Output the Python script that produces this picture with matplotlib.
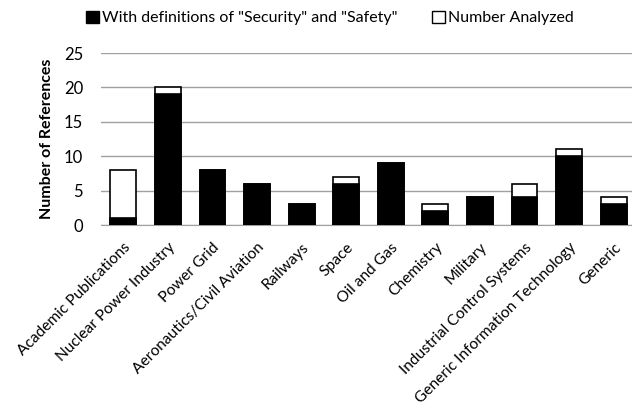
import matplotlib
matplotlib.use("Agg")
import matplotlib.pyplot as plt
from matplotlib.patches import Patch

categories = ["Academic Publications", "Nuclear Power Industry", "Power Grid",
              "Aeronautics/Civil Aviation", "Railways", "Space", "Oil and Gas",
              "Chemistry", "Military", "Industrial Control Systems",
              "Generic Information Technology", "Generic"]
with_defs = [1, 19, 8, 6, 3, 6, 9, 2, 4, 4, 10, 3]
analyzed = [8, 20, 8, 6, 3, 7, 9, 3, 4, 6, 11, 4]
yticks = [0, 5, 10, 15, 20, 25]

plt.rcParams['font.family'] = ['Lato', 'DejaVu Sans']

fig = plt.figure(figsize=(6.32, 4.08), dpi=100)
ax = fig.add_axes([101/632, 1-225/408, 535/632, 172/408])

x = list(range(len(categories)))
ax.bar(x, analyzed, width=0.58, color='white', edgecolor='black', linewidth=1.2, zorder=2)
ax.bar(x, with_defs, width=0.58, color='black', edgecolor='black', linewidth=1.2, zorder=3)

ax.set_xlim(-0.5, len(categories) - 0.5)
ax.set_ylim(0, 25)
ax.set_yticks(yticks)
ax.set_yticklabels([str(v) for v in yticks], fontsize=12)
ax.yaxis.grid(True, color='#a0a0a0', linewidth=1, zorder=0)
ax.set_axisbelow(True)
for s in ['top', 'right', 'left']:
    ax.spines[s].set_visible(False)
ax.spines['bottom'].set_color('#a0a0a0')
ax.tick_params(axis='y', length=0, pad=13)
ax.tick_params(axis='x', length=0, pad=11)
ax.set_xticks(x)
ax.set_xticklabels(categories, rotation=45, ha='right', rotation_mode='anchor', fontsize=11.2)
ax.set_ylabel("Number of References", fontsize=11.5, fontweight='bold', labelpad=7)

handles = [Patch(facecolor='black', edgecolor='black', label='With definitions of "Security" and "Safety"'),
           Patch(facecolor='white', edgecolor='black', label='Number Analyzed')]
fig.legend(handles=handles, loc='center', bbox_to_anchor=(330/632, 1-18/408), ncol=2,
           frameon=False, fontsize=11.5, handlelength=0.8, handleheight=0.8,
           handletextpad=0.2, columnspacing=2.2)

fig.savefig("out.png", dpi=100)
